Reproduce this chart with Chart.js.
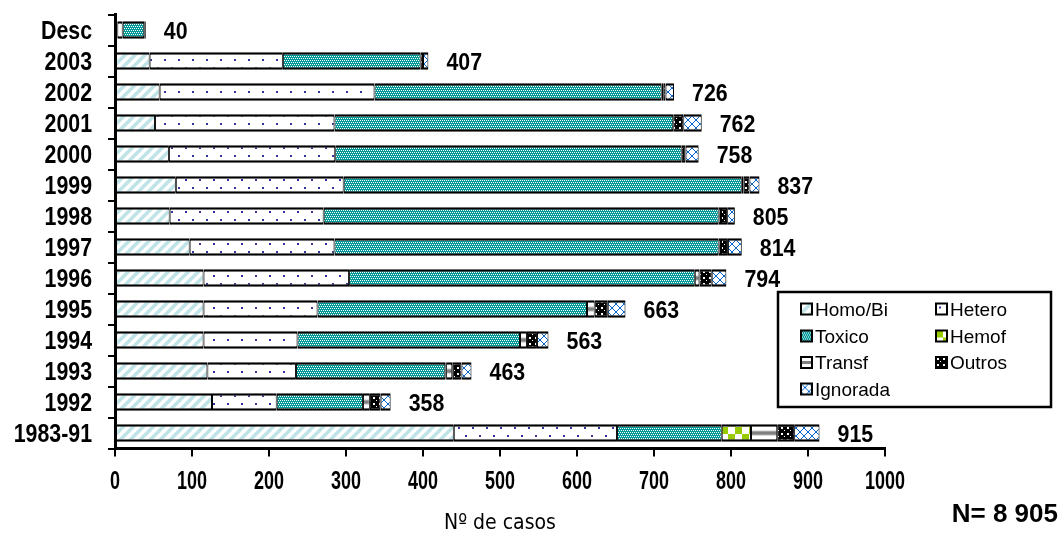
<!DOCTYPE html>
<html><head><meta charset="utf-8">
<script src="https://cdn.jsdelivr.net/npm/chart.js@4.4.0/dist/chart.umd.min.js"></script>
<style>html,body{margin:0;padding:0;background:#fff;}#wrap{width:1061px;height:540px;position:relative;}</style>
</head><body><div id="wrap"><canvas id="c" width="1061" height="540"></canvas></div>
<script>
const categories = ['Desc','2003','2002','2001','2000','1999','1998','1997','1996','1995','1994','1993','1992','1983-91'];
const homoBi   = [3,45,58,52,70,79,71,97,115,115,115,120,126,440];
const hetero   = [7,173,279,233,216,218,200,188,189,148,122,115,84,212];
const toxico   = [28,179,373,440,450,517,513,499,449,350,289,194,112,136];
const hemof    = [0,0,0,0,0,0,0,0,0,0,0,1,0,38];
const transf   = [0,0,2,0,0,2,3,3,6,10,9,8,9,34];
const outros   = [0,3,3,13,5,8,8,9,16,17,13,12,14,22];
const ignorada = [2,7,11,24,17,13,10,18,19,23,15,13,13,33];
const totalLabels = ['40','407','726','762','758','837','805','814','794','663','563','463','358','915'];
const xTicks = [0,100,200,300,400,500,600,700,800,900,1000];
const seriesNames = ['Homo/Bi','Hetero','Toxico','Hemof','Transf','Outros','Ignorada'];
const seriesData = [homoBi, hetero, toxico, hemof, transf, outros, ignorada];
const axisTitle = 'Nº de casos';
const footNote = 'N= 8 905';

const canvas = document.getElementById('c');
const ctx = canvas.getContext('2d');
const COND = "'DejaVu Sans Condensed','DejaVu Sans',sans-serif";
const SANS = "'Liberation Sans',Arial,sans-serif";

function mk(w,h,draw){const c=document.createElement('canvas');c.width=w;c.height=h;const g=c.getContext('2d');draw(g,w,h);return ctx.createPattern(c,'repeat');}
const pHomo = mk(10,10,(g)=>{g.fillStyle='#fff';g.fillRect(0,0,10,10);g.strokeStyle='#bfe3e7';g.lineWidth=3.5;
  for(const o of [-10,0,10]){g.beginPath();g.moveTo(o-1,11);g.lineTo(o+11,-1);g.stroke();}});
const pHetero = mk(14,16,(g)=>{g.fillStyle='#fff';g.fillRect(0,0,14,16);g.fillStyle='#333399';g.fillRect(3,3,2,2);g.fillRect(10,11,2,2);});
const pToxico = mk(4,4,(g)=>{g.fillStyle='#009999';g.fillRect(0,0,4,4);g.fillStyle='#fff';g.fillRect(0,0,1,1);g.fillRect(2,0,1,1);g.fillRect(1,2,1,1);g.fillRect(3,2,1,1);});
const pHemof = mk(14,14,(g)=>{g.fillStyle='#fff';g.fillRect(0,0,14,14);g.fillStyle='#99cc00';g.fillRect(0,0,7,7);g.fillRect(7,7,7,7);});
const pTransf = mk(4,31,(g)=>{g.fillStyle='#fff';g.fillRect(0,0,4,31);g.fillStyle='#808080';g.fillRect(0,13.5,4,4);});
const pTransfLeg = mk(4,11,(g)=>{g.fillStyle='#fff';g.fillRect(0,0,4,11);g.fillStyle='#808080';g.fillRect(0,4,4,3);});
const pOutros = mk(6,6,(g)=>{g.fillStyle='#000';g.fillRect(0,0,6,6);g.fillStyle='#fff';g.fillRect(1,1,2,2);g.fillRect(4,4,1,1);});
const pIgn = mk(8,8,(g)=>{g.fillStyle='#fff';g.fillRect(0,0,8,8);g.fillStyle='#0066cc';for(let i=0;i<8;i+=1){g.fillRect(i,i,1,1);g.fillRect(7-i,i,1,1);}});
const fills = [pHomo,pHetero,pToxico,pHemof,pTransf,pOutros,pIgn];
const legFills = [pHomo,pHetero,pToxico,pHemof,pTransfLeg,pOutros,pIgn];

function condText(g, text, x, baseY, size, sx, align){
  g.save(); g.translate(x, baseY); g.scale(sx, 1);
  g.font = 'bold ' + size + 'px ' + SANS; g.textAlign = align; g.textBaseline = 'alphabetic';
  g.fillText(text, 0, 0); g.restore();
}

const alignPlugin = {
  id:'align',
  beforeDatasetsDraw(chart){
    const ys = chart.scales.y;
    const c0 = ys.getPixelForValue(0), c1 = ys.getPixelForValue(1);
    const sp = c1 - c0;
    pTransf.setTransform(new DOMMatrix().translateSelf(0, c0 - sp/2).scaleSelf(1, sp/31));
  }
};
const labelPlugin = {
  id:'labels',
  afterDatasetsDraw(chart){
    const xs = chart.scales.x, ys = chart.scales.y;
    const g = chart.ctx;
    g.save(); g.fillStyle='#000';
    categories.forEach((c,i)=>{
      let s=0; seriesData.forEach(a=>s+=a[i]);
      condText(g, totalLabels[i], xs.getPixelForValue(s)+18, ys.getPixelForValue(i)+0.716*24/2, 24, 0.89, 'left');
    });
    categories.forEach((c,i)=>{
      condText(g, c, ys.right - 23, ys.getPixelForValue(i)+0.716*26/2, 26, 0.82, 'right');
    });
    xTicks.forEach(v=>{
      condText(g, String(v), xs.getPixelForValue(v), xs.top + 32 + 0.716*25/2, 25, 0.72, 'center');
    });
    g.restore();
  },
  afterDraw(chart){
    const g = chart.ctx;
    g.save();
    const bx=778, by=292, bw=273, bh=115;
    g.fillStyle='#fff'; g.fillRect(bx,by,bw,bh);
    g.strokeStyle='#000'; g.lineWidth=2.5; g.strokeRect(bx,by,bw,bh);
    const colX=[801,936], rowY=[309,336,362.5,389], s=11;
    g.font = "19px " + SANS; g.textBaseline='alphabetic'; g.textAlign='left';
    seriesNames.forEach((n,i)=>{
      const cx = colX[i%2], cy = rowY[Math.floor(i/2)];
      g.save(); g.translate(cx, cy - s/2); g.fillStyle = legFills[i]; g.fillRect(0,0,s,s); g.restore();
      g.strokeStyle='#000'; g.lineWidth=2; g.strokeRect(cx, cy - s/2, s, s);
      g.fillStyle='#000'; g.fillText(n, cx + s + 3, cy + 0.716*19/2);
    });
    g.font = "bold 26px " + SANS; g.textAlign='right';
    g.fillText(footNote, 1058, 513 + 0.716*26/2);
    g.restore();
  }
};

new Chart(ctx, {
  type:'bar',
  data:{
    labels: categories,
    datasets: seriesNames.map((n,i)=>({label:n, data:seriesData[i], backgroundColor:fills[i]}))
  },
  options:{
    indexAxis:'y', responsive:false, animation:false, devicePixelRatio:1,
    layout:{padding:{left:0,right:176,top:14.5,bottom:0}},
    plugins:{legend:{display:false}, tooltip:{enabled:false}},
    datasets:{bar:{categoryPercentage:1, barPercentage:0.56, borderColor:'#000',
      borderWidth:{top:2.5,bottom:2.5,left:1,right:1}, borderSkipped:false}},
    scales:{
      x:{stacked:true, min:0, max:1000,
        afterBuildTicks(s){ s.ticks = xTicks.map(v=>({value:v})); },
        ticks:{display:false},
        grid:{drawOnChartArea:false, drawTicks:true, tickLength:8, color:'#000', lineWidth:2},
        border:{color:'#000', width:3},
        title:{display:true, text:axisTitle, color:'#000', font:{family:COND, size:21}, padding:{top:0,bottom:4}},
        afterFit(s){ s.height = 91.5; s.paddingLeft=0; s.paddingRight=0; }
      },
      y:{stacked:true,
        ticks:{display:false},
        grid:{drawOnChartArea:false, drawTicks:true, tickLength:7, color:'#000', lineWidth:2, offset:true},
        border:{color:'#000', width:3},
        afterFit(s){ s.width = 115; s.paddingTop=0; s.paddingBottom=0; }
      }
    }
  },
  plugins:[alignPlugin, labelPlugin]
});
</script></body></html>
